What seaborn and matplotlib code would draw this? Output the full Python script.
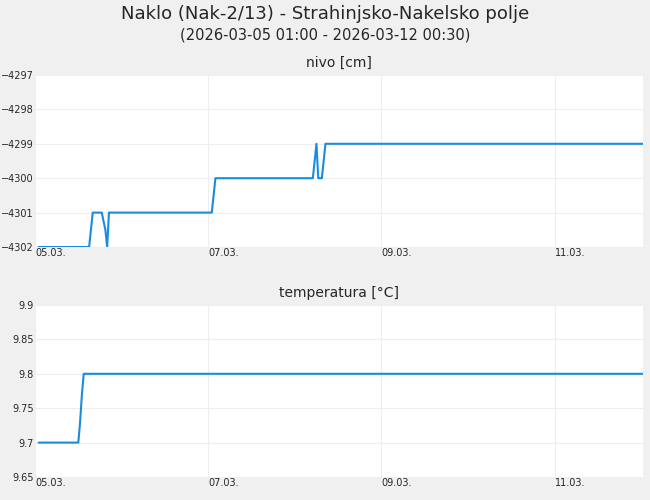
import matplotlib
matplotlib.use("Agg")
import matplotlib.pyplot as plt
import matplotlib.dates as mdates
import seaborn as sns
import pandas as pd

nivo_times = ["2026-03-05 01:00", "2026-03-05 15:00", "2026-03-05 15:30", "2026-03-05 16:00",
              "2026-03-05 18:30", "2026-03-05 19:30", "2026-03-05 20:00", "2026-03-05 20:30",
              "2026-03-07 01:00", "2026-03-07 01:30", "2026-03-07 02:00",
              "2026-03-08 05:00", "2026-03-08 06:00", "2026-03-08 06:30", "2026-03-08 07:30",
              "2026-03-08 08:00", "2026-03-08 08:30", "2026-03-08 09:00", "2026-03-12 00:30"]
nivo_vals = [-4302, -4302, -4301.5, -4301, -4301, -4301.5, -4302, -4301,
             -4301, -4300.5, -4300,
             -4300, -4299, -4300, -4300, -4299.5, -4299, -4299, -4299]

temp_times = ["2026-03-05 01:00", "2026-03-05 12:00", "2026-03-05 12:30", "2026-03-05 13:00",
              "2026-03-05 13:30", "2026-03-12 00:30"]
temp_vals = [9.7, 9.7, 9.73, 9.77, 9.8, 9.8]

nivo = pd.DataFrame({"t": pd.to_datetime(nivo_times), "v": nivo_vals})
temp = pd.DataFrame({"t": pd.to_datetime(temp_times), "v": temp_vals})

sns.set_theme(style="whitegrid")
plt.rcParams['font.family'] = ['DejaVu Sans']
fig = plt.figure(figsize=(6.5, 5), dpi=100, facecolor="#f0f0f0")
ax1 = fig.add_axes([35/650, 1-247/500, 608/650, 172/500])
ax2 = fig.add_axes([35/650, 1-477/500, 608/650, 172/500])
col = "#1a8ce0"
sns.lineplot(data=nivo, x="t", y="v", ax=ax1, color=col, lw=1.5)
sns.lineplot(data=temp, x="t", y="v", ax=ax2, color=col, lw=1.5)

xmin = pd.Timestamp("2026-03-05 00:00")
xmax = pd.Timestamp("2026-03-12 00:30")
for ax, yl, yt, title in [(ax1, (-4302, -4297), range(-4302, -4296), "nivo [cm]"),
                          (ax2, (9.65, 9.9), [9.65, 9.7, 9.75, 9.8, 9.85, 9.9], "temperatura [°C]")]:
    ax.set_facecolor("white")
    ax.set_xlim(xmin, xmax)
    ax.set_ylim(*yl)
    ax.set_yticks(list(yt))
    ax.set_xticks(pd.to_datetime(["2026-03-05", "2026-03-07", "2026-03-09", "2026-03-11"]))
    ax.xaxis.set_major_formatter(mdates.DateFormatter("%d.%m."))
    ax.tick_params(labelsize=7, pad=1, length=0)
    ax.grid(color="#eeeeee", lw=0.8)
    ax.set_xlabel("")
    ax.set_ylabel("")
    for s in ax.spines.values():
        s.set_visible(False)
    ax.set_title(title, fontsize=10, pad=6)
ax2.set_yticklabels(["9.65", "9.7", "9.75", "9.8", "9.85", "9.9"])
for lab in ax1.get_xticklabels() + ax2.get_xticklabels():
    lab.set_horizontalalignment("left")

fig.text(0.5, 1-14/500, "Naklo (Nak-2/13) - Strahinjsko-Nakelsko polje", ha="center", va="center", fontsize=13)
fig.text(0.5, 1-35/500, "(2026-03-05 01:00 - 2026-03-12 00:30)", ha="center", va="center", fontsize=10.5)
fig.savefig("out.png", dpi=100, facecolor=fig.get_facecolor())
